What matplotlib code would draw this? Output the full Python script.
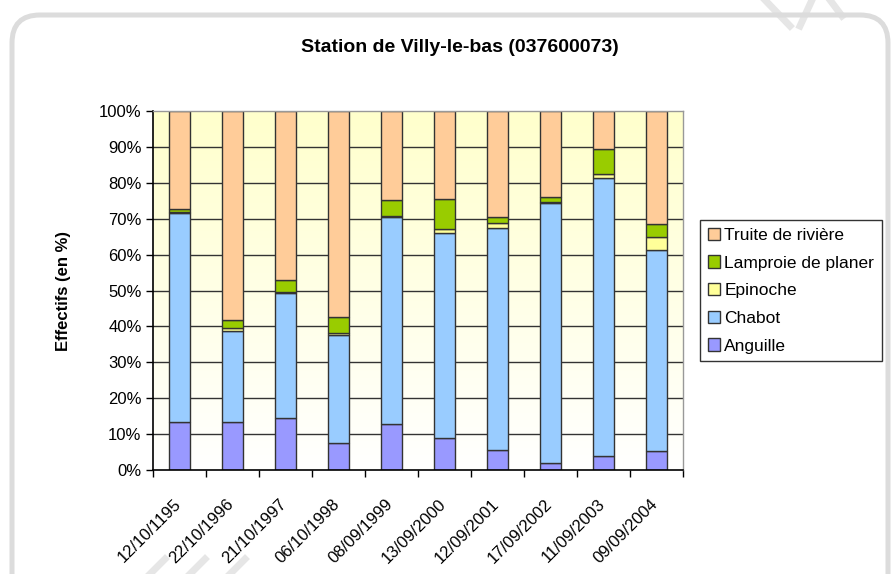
import numpy as np
import matplotlib
matplotlib.use("Agg")
import matplotlib.pyplot as plt
from matplotlib.patches import FancyBboxPatch
from matplotlib.lines import Line2D
from matplotlib.transforms import ScaledTranslation, IdentityTransform

plt.rcParams['font.family'] = ['Liberation Sans', 'DejaVu Sans']

# dates des peches
dates = ["12/10/1195", "22/10/1996", "21/10/1997", "06/10/1998", "08/09/1999",
         "13/09/2000", "12/09/2001", "17/09/2002", "11/09/2003", "09/09/2004"]

# effectifs en %
anguille = [13.3, 13.3, 14.5, 7.4, 12.7, 8.8, 5.6, 1.9, 4.0, 5.4]
chabot = [58.4, 25.4, 34.7, 30.2, 57.7, 57.1, 61.7, 72.4, 77.2, 55.9]
epinoche = [0.3, 0.8, 0.3, 0.6, 0.3, 1.1, 1.4, 0.3, 1.2, 3.5]
lamproie = [0.8, 2.2, 3.4, 4.5, 4.5, 8.5, 1.9, 1.4, 6.9, 3.6]
truite = [27.2, 58.3, 47.1, 57.3, 24.8, 24.5, 29.4, 24.0, 10.7, 31.6]

especes = ["Anguille", "Chabot", "Epinoche", "Lamproie de planer", "Truite de rivière"]
couleurs = ["#9999FF", "#99CCFF", "#FFFF99", "#99CC00", "#FFCC99"]
series = [anguille, chabot, epinoche, lamproie, truite]

fig = plt.figure(figsize=(8.93, 5.74), dpi=100)
ax = fig.add_axes([0.171, 0.1812, 0.5935, 0.6254])

x = np.arange(len(dates))

# fond degrade jaune -> blanc
grad = np.linspace(0, 1, 256).reshape(-1, 1)
top = np.array([1.0, 1.0, 0.80])
bot = np.array([1.0, 1.0, 1.0])
img = bot + (top - bot) * grad
ax.imshow(img[:, None, :].repeat(2, axis=1), origin="lower", aspect="auto",
          extent=[-0.5, 9.5, 0, 100], zorder=0)

for yv in range(10, 100, 10):
    ax.axhline(yv, color="#333333", lw=1, zorder=1)

bas = np.zeros(len(dates))
for vals, nom, c in zip(series, especes, couleurs):
    ax.bar(x, vals, 0.4, bottom=bas, color=c, edgecolor="#333333",
           linewidth=1, label=nom, zorder=2)
    bas = bas + np.array(vals)

ax.set_xlim(-0.5, 9.5)
ax.set_ylim(0, 100)
ax.set_yticks(range(0, 101, 10))
ax.set_yticklabels([f"{v}%" for v in range(0, 101, 10)], fontsize=12)
ax.tick_params(axis="y", direction="out", length=5, width=1, pad=3)

ax.set_xticks(x)
ax.set_xticklabels(dates, fontsize=12, rotation=45, ha="right", va="top",
                   rotation_mode="anchor")
ax.set_xticks(np.arange(-0.5, 10, 1), minor=True)
ax.tick_params(axis="x", which="major", length=0, pad=19)
ax.tick_params(axis="x", which="minor", direction="out", length=5, width=1)
for lab in ax.get_xticklabels():
    lab.set_transform(lab.get_transform() + ScaledTranslation(-0.06, 0, fig.dpi_scale_trans))

for s in ["left", "bottom"]:
    ax.spines[s].set_color("black")
    ax.spines[s].set_linewidth(1.2)
for s in ["top", "right"]:
    ax.spines[s].set_color("#999999")
    ax.spines[s].set_linewidth(1)

ax.set_ylabel("Effectifs (en %)", fontsize=12, fontweight="bold")
ax.yaxis.set_label_coords(-0.155, 0.5)

fig.text(0.515, 0.918, "Station de Villy-le-bas (037600073)", fontsize=14,
         fontweight="bold", ha="center", va="center")

h, l = ax.get_legend_handles_labels()
leg = fig.legend(h[::-1], l[::-1], loc="upper left", bbox_to_anchor=(0.784, 0.6167),
                 fontsize=12.5, frameon=True, fancybox=False, edgecolor="black",
                 handlelength=0.7, handleheight=0.7, handletextpad=0.25,
                 labelspacing=0.72, borderpad=0.45, borderaxespad=0)
leg.get_frame().set_linewidth(1)

# cadre arrondi gris autour du graphe
cadre = FancyBboxPatch((12, -60), 876, 619, boxstyle="round,pad=0,rounding_size=28",
                       transform=IdentityTransform(), fill=False,
                       edgecolor="#dcdcdc", linewidth=3.6, zorder=-1)
fig.patches.append(cadre)

# traces du filigrane
for (x0, y0, x1, y1) in [(765, 574, 790, 548), (800, 548, 812, 574), (830, 574, 842, 558),
                         (150, 0, 165, 15), (190, 0, 205, 15), (230, 0, 245, 15)]:
    fig.lines.append(Line2D([x0, x1], [y0, y1], transform=IdentityTransform(),
                            color="#e6e6e6", lw=5, zorder=-1))

fig.savefig("out.png", dpi=100)
